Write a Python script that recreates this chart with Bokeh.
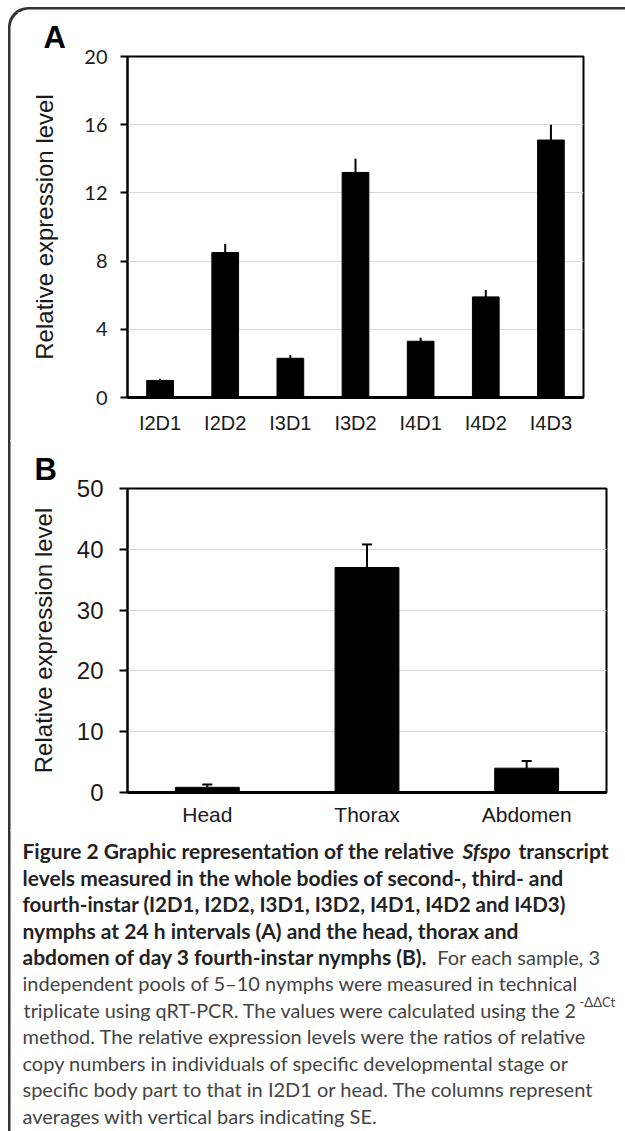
import numpy as np
from bokeh.plotting import figure
from bokeh.models import Range1d, FactorRange, FixedTicker, ColumnDataSource, InlineStyleSheet
from bokeh.layouts import column, row
from bokeh.embed import file_html
from bokeh.resources import INLINE
from bokeh.core.properties import value

# ---------------- data ----------------
stages = ["I2D1", "I2D2", "I3D1", "I3D2", "I4D1", "I4D2", "I4D3"]
stage_mean = [1.0, 8.5, 2.3, 13.2, 3.3, 5.9, 15.1]
stage_se = [0.1, 0.5, 0.2, 0.8, 0.2, 0.4, 0.9]
stage_ticks = [0, 4, 8, 12, 16, 20]

parts = ["Head", "Thorax", "Abdomen"]
part_mean = [0.85, 37.0, 4.0]
part_se = [0.45, 3.8, 1.2]
part_ticks = [0, 10, 20, 30, 40, 50]

y_title = "Relative expression level"

# caption: (line, text, style)
caption_segments = [
    (0, "Figure 2 Graphic representation of the relative", "bold"),
    (0, "Sfspo", "bold italic"),
    (0, "transcript", "bold"),
    (1, "levels measured in the whole bodies of second-, third- and", "bold"),
    (2, "fourth-instar (I2D1, I2D2, I3D1, I3D2, I4D1, I4D2 and I4D3)", "bold"),
    (3, "nymphs at 24 h intervals (A) and the head, thorax and", "bold"),
    (4, "abdomen of day 3 fourth-instar nymphs (B).", "bold"),
    (4, "For each sample, 3", "normal"),
    (5, "independent pools of 5\u201310 nymphs were measured in technical", "normal"),
    (6, "triplicate using qRT-PCR. The values were calculated using the 2", "normal"),
    (6, "-\u0394\u0394Ct", "sup"),
    (7, "method. The relative expression levels were the ratios of relative", "normal"),
    (8, "copy numbers in individuals of specific developmental stage or", "normal"),
    (9, "specific body part to that in I2D1 or head. The columns represent", "normal"),
    (10, "averages with vertical bars indicating SE.", "normal"),
]
# layout (pixel) anchors, alignment and sizes of the caption segments
seg_x = [22, 462, 608, 22, 22, 22, 22, 600, 22, 577, 579, 22, 22, 22, 22]
seg_align = ["left", "left", "right", "left", "left", "left", "left", "right",
             "left", "right", "left", "left", "left", "left", "left"]
seg_size = [21, 21, 21, 21, 20.5, 21, 21, 20, 20, 19.8, 13, 20, 20, 20, 20]

AX_FONT = "Liberation Sans"
CAP_FONT = "Lato"
INK = "#1a1a1a"
BORDER = "#333333"

W = 625
TOP_H = 12          # top strip (page y 0..12)
A_H = 428           # panel A (page y 12..440)
B_H = 390           # panel B (page y 440..830)
C_H = 301           # caption (page y 830..1131)
STRIP_W = 20


def no_align(p):
    try:
        p.frame_align = False
    except Exception:
        pass


def blank(width, height, x0, x1, ytop, ybot):
    p = figure(width=width, height=height, x_range=Range1d(x0, x1),
               y_range=Range1d(ybot, ytop), output_backend="svg",
               toolbar_location=None, x_axis_type=None, y_axis_type=None,
               min_border=0)
    p.grid.grid_line_color = None
    p.outline_line_color = None
    no_align(p)
    return p


# rounded corner of the frame box (page pixel coordinates), from (9,28) to (29,8)
t = np.linspace(np.pi, np.pi / 2, 30)
corner_x = list(29 + 20 * np.cos(t))
corner_y = list(28 - 20 * np.sin(t))


def style_panel(p, ticks, tick_font, tick_size, tick_out, tick_standoff,
                xl_size, xl_standoff, yl_standoff, letter, letter_offset):
    no_align(p)
    p.outline_line_color = "black"
    p.outline_line_width = 2
    p.outline_line_alpha = 1
    p.xgrid.grid_line_color = None
    p.ygrid.grid_line_color = "#d9d9d9"
    p.ygrid.grid_line_width = 1.2

    ya = p.yaxis[0]
    ya.ticker = FixedTicker(ticks=ticks)
    ya.axis_line_width = 2
    ya.axis_line_color = "black"
    ya.major_tick_out = tick_out
    ya.major_tick_in = 0
    ya.major_tick_line_width = 2
    ya.minor_tick_line_color = None
    ya.major_label_text_font = tick_font
    ya.major_label_text_font_size = tick_size
    ya.major_label_text_color = INK
    ya.major_label_standoff = tick_standoff
    ya.axis_label = y_title
    ya.axis_label_text_font = AX_FONT
    ya.axis_label_text_font_style = "normal"
    ya.axis_label_text_font_size = "24px"
    ya.axis_label_text_color = INK
    ya.axis_label_standoff = yl_standoff

    xa = p.xaxis[0]
    xa.axis_line_width = 3
    xa.axis_line_color = "black"
    xa.major_tick_out = 0
    xa.major_tick_in = 0
    xa.minor_tick_line_color = None
    xa.major_label_text_font = AX_FONT
    xa.major_label_text_font_size = xl_size
    xa.major_label_text_color = INK
    xa.major_label_standoff = xl_standoff

    p.title.text = letter
    p.title.text_font = AX_FONT
    p.title.text_font_size = "31px"
    p.title.text_font_style = "bold"
    p.title.text_color = "black"
    p.title.align = "left"
    p.title.offset = letter_offset
    p.title.standoff = 4


# ---------------- top strip (frame box top edge) ----------------
pT = blank(W, TOP_H, 0, W, 0, TOP_H)
pT.line(x=corner_x, y=corner_y, line_color=BORDER, line_width=2)
pT.segment(x0=[29], y0=[8], x1=[W], y1=[8], line_color=BORDER, line_width=2)

# ---------------- panel A ----------------
pA = figure(width=W - STRIP_W, height=A_H, title="A",
            x_range=FactorRange(factors=stages, range_padding=0),
            y_range=Range1d(0, 20),
            output_backend="svg", toolbar_location=None,
            min_border_left=107, min_border_right=42,
            min_border_top=44, min_border_bottom=43)
style_panel(pA, stage_ticks, "Lato", "20px", 7, 13, "20px", 14, 23, "A", -84)

srcA = ColumnDataSource(dict(x=stages, top=stage_mean,
                             up=[m + s for m, s in zip(stage_mean, stage_se)]))
pA.vbar(x="x", top="top", width=0.41, source=srcA, fill_color="black", line_color="black")
pA.segment(x0="x", y0="top", x1="x", y1="up", source=srcA, line_color="black", line_width=2)

pLA = blank(STRIP_W, A_H, 0, STRIP_W, TOP_H, TOP_H + A_H)
pLA.line(x=corner_x, y=corner_y, line_color=BORDER, line_width=2)
pLA.segment(x0=[9], y0=[28], x1=[9], y1=[TOP_H + A_H], line_color=BORDER, line_width=2)

# ---------------- panel B ----------------
pB = figure(width=W - STRIP_W, height=B_H, title="B",
            x_range=FactorRange(factors=parts, range_padding=0),
            y_range=Range1d(0, 50),
            output_backend="svg", toolbar_location=None,
            min_border_left=107, min_border_right=19,
            min_border_top=48, min_border_bottom=38)
style_panel(pB, part_ticks, AX_FONT, "24px", 8, 16, "21px", 10, 17, "B", -93)

srcB = ColumnDataSource(dict(x=parts, top=part_mean,
                             up=[m + s for m, s in zip(part_mean, part_se)]))
pB.vbar(x="x", top="top", width=0.4, source=srcB, fill_color="black", line_color="black")
pB.segment(x0="x", y0="top", x1="x", y1="up", source=srcB, line_color="black", line_width=2)
pB.scatter(x="x", y="up", source=srcB, marker="dash", size=10, line_color="black", line_width=2)

pLB = blank(STRIP_W, B_H, 0, STRIP_W, 0, B_H)
pLB.segment(x0=[9], y0=[0], x1=[9], y1=[B_H], line_color=BORDER, line_width=2)

# ---------------- caption ----------------
pC = blank(W, C_H, 0, W, 0, C_H)

line_top = 20
line_gap = 26.5
cx, cy, ct, cst, csz, ccol = [], [], [], [], [], []
for (ln, txt, st), x, sz in zip(caption_segments, seg_x, seg_size):
    y = line_top + line_gap * ln
    if st == "sup":
        cst.append("normal"); y -= 8; ccol.append("#444444")
    elif "bold" in st:
        cst.append(st); ccol.append("#222222")
    else:
        cst.append(st); ccol.append("#444444")
    csz.append(f"{sz}px")
    cx.append(x); cy.append(y); ct.append(txt)
srcC = ColumnDataSource(dict(x=cx, y=cy, text=ct, style=cst, size=csz,
                             color=ccol, align=seg_align))
pC.text(x="x", y="y", text="text", source=srcC, text_font=value(CAP_FONT),
        text_font_style="style", text_font_size="size", text_color="color",
        text_baseline="middle", text_align="align")
pC.segment(x0=[9], y0=[0], x1=[9], y1=[C_H], line_color=BORDER, line_width=2)

# rounded frame box round the whole figure (top edge + corner + left edge)
box_css = InlineStyleSheet(css="""
:host { position: relative; }
:host::after {
  content: "";
  position: absolute;
  left: 8px; top: 7px; right: -4px; bottom: -4px;
  border-left: 2px solid #333333;
  border-top: 2px solid #333333;
  border-top-left-radius: 20px;
  pointer-events: none;
  z-index: 50;
}
""")

layout = column(pT, row(pLA, pA, spacing=0), row(pLB, pB, spacing=0), pC,
                spacing=0, stylesheets=[box_css])
open("out.html", "w").write(file_html(layout, INLINE))
